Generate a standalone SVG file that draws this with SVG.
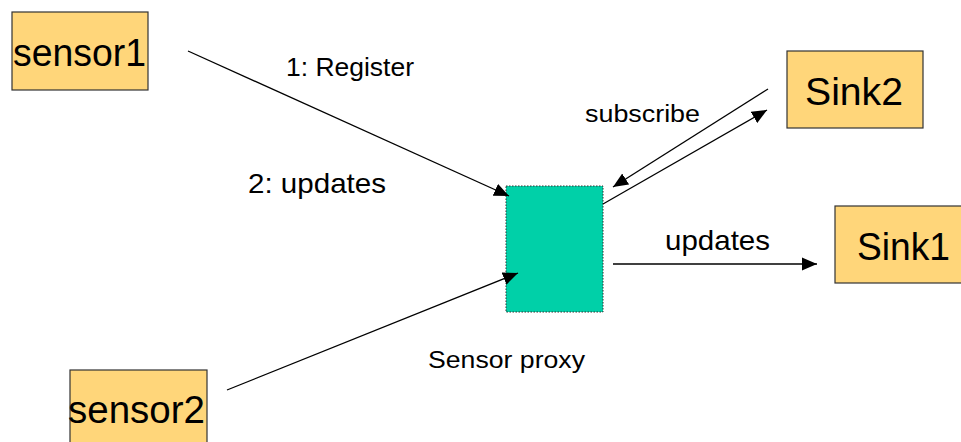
<svg xmlns="http://www.w3.org/2000/svg" width="961" height="442" viewBox="0 0 961 442">
  <style>
    .box { fill: #FFD67A; stroke: #333; stroke-width: 1.2; }
    .proxy { fill: #00D0A8; stroke: #333; stroke-width: 1; stroke-dasharray: 1.5 1.5; }
    .big { font-family: "Liberation Sans", Arial, sans-serif; font-size: 38px; fill: #000; }
    .lbl { font-family: "Liberation Sans", Arial, sans-serif; fill: #000; }
    .edge { stroke: #000; stroke-width: 1.3; fill: none; marker-end: url(#arrow); }
  </style>
  <defs>
    <marker id="arrow" markerUnits="userSpaceOnUse" markerWidth="16" markerHeight="14" refX="15" refY="6.5" orient="auto" viewBox="0 0 16 13">
      <path d="M0,0 L15,6.5 L0,13 Z" fill="#000"/>
    </marker>
  </defs>

  <rect width="961" height="442" fill="#fff"/>

  <g id="sensor1">
    <rect class="box" x="12" y="12" width="136" height="78"/>
    <text class="big" x="13" y="66" textLength="133" lengthAdjust="spacingAndGlyphs">sensor1</text>
  </g>

  <g id="sensor2">
    <rect class="box" x="70" y="370" width="137" height="80"/>
    <text class="big" x="68" y="423" textLength="137" lengthAdjust="spacingAndGlyphs">sensor2</text>
  </g>

  <g id="sink2">
    <rect class="box" x="787" y="51" width="136" height="77"/>
    <text class="big" x="805" y="105" textLength="98" lengthAdjust="spacingAndGlyphs">Sink2</text>
  </g>

  <g id="sink1">
    <rect class="box" x="835" y="206" width="130" height="77"/>
    <text class="big" x="857" y="260" textLength="93" lengthAdjust="spacingAndGlyphs">Sink1</text>
  </g>

  <g id="proxy">
    <rect class="proxy" x="506" y="186" width="97" height="126"/>
    <text class="lbl" x="428" y="368" font-size="23" textLength="157" lengthAdjust="spacingAndGlyphs">Sensor proxy</text>
  </g>

  <g id="connectors">
    <line class="edge" x1="188" y1="51" x2="509" y2="196"/>
    <line class="edge" x1="227" y1="390" x2="518" y2="273"/>
    <line class="edge" x1="768" y1="89" x2="613" y2="187"/>
    <line class="edge" x1="603" y1="204" x2="767" y2="110"/>
    <line class="edge" x1="613" y1="264" x2="817" y2="264"/>
    <text class="lbl" x="286" y="76" font-size="26" textLength="128" lengthAdjust="spacingAndGlyphs">1: Register</text>
    <text class="lbl" x="248" y="193" font-size="28" textLength="138" lengthAdjust="spacingAndGlyphs">2: updates</text>
    <text class="lbl" x="585" y="122" font-size="23" textLength="115" lengthAdjust="spacingAndGlyphs">subscribe</text>
    <text class="lbl" x="665" y="250" font-size="28" textLength="105" lengthAdjust="spacingAndGlyphs">updates</text>
  </g>
</svg>
